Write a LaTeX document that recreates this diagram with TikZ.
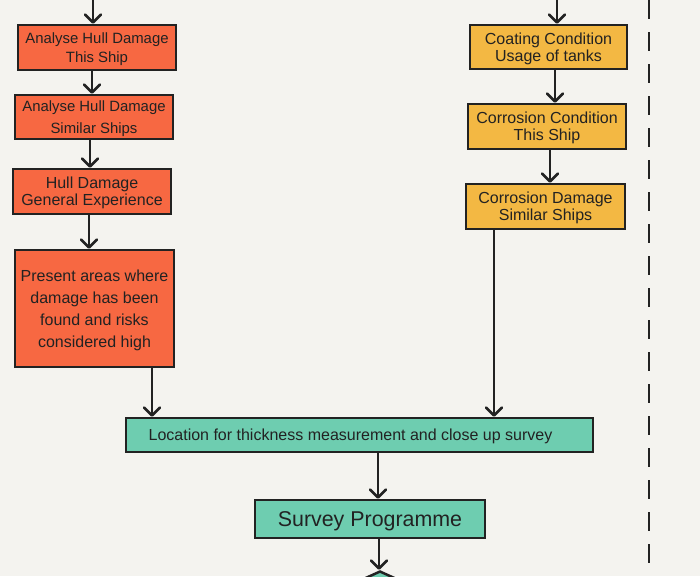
\documentclass[tikz,border=0pt]{standalone}
\usepackage{fontspec}
\setmainfont{Liberation Sans}
\usetikzlibrary{arrows.meta,shapes.geometric}
\definecolor{bgc}{RGB}{244,243,239}
\definecolor{orangec}{RGB}{247,104,66}
\definecolor{yellowc}{RGB}{243,184,67}
\definecolor{greenc}{RGB}{110,205,176}
\definecolor{inkc}{RGB}{34,34,34}
\tikzset{
  box/.style={draw=inkc, line width=2.5pt, rectangle, inner sep=0pt, align=center, text=inkc, text depth=0pt},
  obox/.style={box, fill=orangec},
  ybox/.style={box, fill=yellowc},
  gbox/.style={box, fill=greenc},
  arr/.style={draw=inkc, line width=2.6pt, -{Straight Barb[length=8pt,width=16pt,line join=round,line cap=round]}},
}
\begin{document}
\begin{tikzpicture}[x=1pt,y=-1pt]
\useasboundingbox (0,0) rectangle (700,576);
\fill[bgc] (0,0) rectangle (700,576);
\clip (0,0) rectangle (700,576);

% left column
\node[obox, minimum width=158pt, minimum height=45pt, font=\fontsize{14.9}{19}\selectfont] (b1) at (97,47.5) {Analyse Hull Damage\\This Ship};
\node[obox, minimum width=158pt, minimum height=44pt, font=\fontsize{14.9}{22}\selectfont] (b2) at (94,117) {Analyse Hull Damage\\Similar Ships};
\node[obox, minimum width=158pt, minimum height=45pt, font=\fontsize{16}{17}\selectfont] (b3) at (92,191.5) {Hull Damage\\General Experience};
\node[obox, minimum width=159pt, minimum height=117pt, font=\fontsize{16}{22}\selectfont] (b4) at (94.5,308.5) {Present areas where\\damage has been\\found and risks\\considered high};

% right column
\node[ybox, minimum width=157pt, minimum height=44pt, font=\fontsize{16}{17}\selectfont] (b5) at (548.5,47) {Coating Condition\\Usage of tanks};
\node[ybox, minimum width=158pt, minimum height=45pt, font=\fontsize{16}{17}\selectfont] (b6) at (547,126.5) {Corrosion Condition\\This Ship};
\node[ybox, minimum width=159pt, minimum height=45pt, font=\fontsize{16}{17}\selectfont] (b7) at (545.5,206.5) {Corrosion Damage\\Similar Ships};

% bottom
\node[gbox, minimum width=467pt, minimum height=34pt, font=\fontsize{16}{18}\selectfont] (loc) at (359.5,435) {\hspace*{-18pt}Location for thickness measurement and close up survey};
\node[gbox, minimum width=230pt, minimum height=38pt, font=\fontsize{21.4}{24}\selectfont] (sp) at (370,519) {Survey Programme};
\node[draw=inkc, line width=2.5pt, fill=greenc, diamond, minimum width=220pt, minimum height=100pt, inner sep=0pt] (dia) at (380,621) {};

% connectors
\coordinate (t1) at (93,-2);
\coordinate (t5) at (557,-2);
\draw[arr] (t1) -- (t1 |- b1.north);
\draw[arr] (t5) -- (t5 |- b5.north);

\coordinate (a12) at ([xshift=-5pt]b1.south);
\draw[arr] (a12) -- (a12 |- b2.north);
\coordinate (a23) at ([xshift=-4pt]b2.south);
\draw[arr] (a23) -- (a23 |- b3.north);
\coordinate (a34) at ([xshift=-3pt]b3.south);
\draw[arr] (a34) -- (a34 |- b4.north);
\coordinate (a4l) at ([xshift=57.5pt]b4.south);
\draw[arr] (a4l) -- (a4l |- loc.north);

\coordinate (a56) at ([xshift=6.5pt]b5.south);
\draw[arr] (a56) -- (a56 |- b6.north);
\coordinate (a67) at ([xshift=3pt]b6.south);
\draw[arr] (a67) -- (a67 |- b7.north);
\coordinate (a7l) at ([xshift=-51.5pt]b7.south);
\draw[arr] (a7l) -- (a7l |- loc.north);

\coordinate (als) at ([xshift=18.5pt]loc.south);
\draw[arr] (als) -- (als |- sp.north);
\coordinate (asd) at ([xshift=9pt]sp.south);
\draw[arr] (asd) -- (asd |- dia.north);

% dashed separator
\coordinate (d1) at (649,0);
\coordinate (d2) at (649,576);
\draw[inkc, line width=2.8pt, dash pattern=on 19pt off 13pt] (d1) -- (d2);
\end{tikzpicture}
\end{document}
